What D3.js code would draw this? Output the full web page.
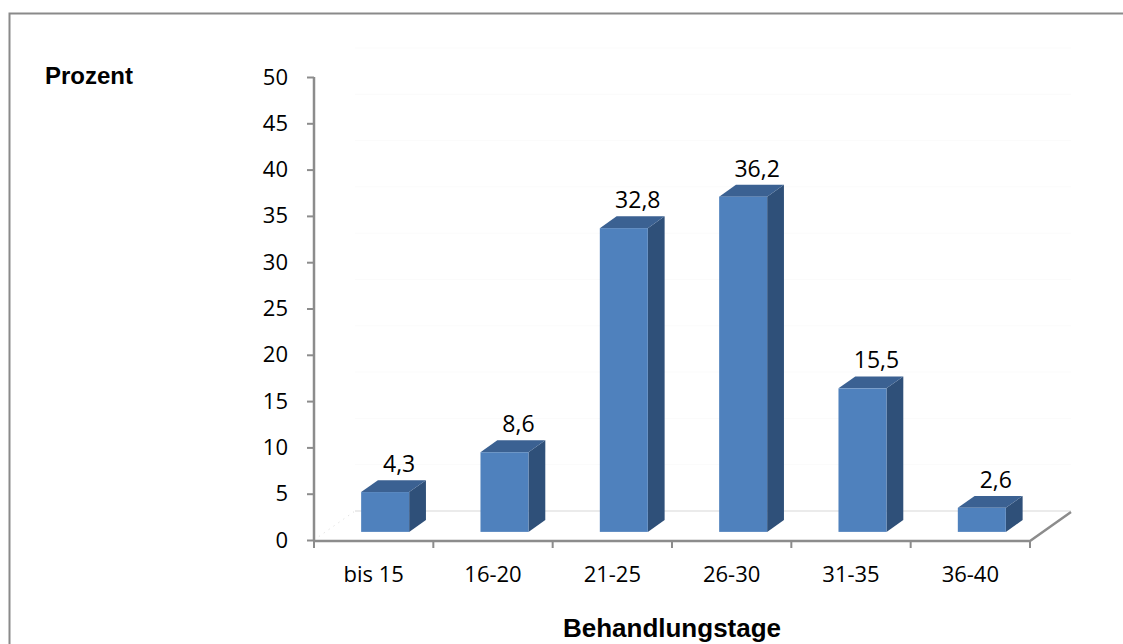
<!DOCTYPE html>
<html>
<head>
<meta charset="utf-8">
<script src="https://cdn.jsdelivr.net/npm/d3@7"></script>
<style>
  html, body { margin: 0; padding: 0; background: #fff; }
  svg { display: block; }
</style>
</head>
<body>
<svg id="chart" width="1123" height="644"></svg>
<script>
// Verteilung der Behandlungsdauer (Tage), Anteile in Prozent
const categories = ["bis 15", "16-20", "21-25", "26-30", "31-35", "36-40"];
const values = [4.3, 8.6, 32.8, 36.2, 15.5, 2.6];
const valueLabels = ["4,3", "8,6", "32,8", "36,2", "15,5", "2,6"];
const yTicks = [0, 5, 10, 15, 20, 25, 30, 35, 40, 45, 50];

const svg = d3.select("#chart");
const W = 1123, H = 644;

// plot frame
const x0 = 314, x1 = 1030, yBase = 540, yTop = 77;
// 3D depth of the floor and of the bars
const depth = { dx: 41, dy: -29 };
const barFront = 0.28, barBack = 0.69;

const x = d3.scaleBand().domain(categories).range([x0, x1]).paddingInner(0).paddingOuter(0);
const y = d3.scaleLinear().domain([0, 50]).range([yBase, yTop]);

const font = "'Open Sans', sans-serif";
const fs = 22;

// outer border
svg.append("rect")
  .attr("x", 9.5).attr("y", 13.5)
  .attr("width", W + 20).attr("height", H + 20)
  .attr("fill", "none").attr("stroke", "#8a8a8a").attr("stroke-width", 2);

// back wall gridlines (barely visible)
svg.append("g").selectAll("line").data(yTicks.filter(t => t > 0)).join("line")
  .attr("x1", x0 + depth.dx).attr("x2", x1 + depth.dx)
  .attr("y1", d => y(d) + depth.dy).attr("y2", d => y(d) + depth.dy)
  .attr("stroke", "#fbfbfb").attr("stroke-width", 1);

// floor back edge and left floor edge
svg.append("line")
  .attr("x1", x0 + depth.dx).attr("x2", x1 + depth.dx)
  .attr("y1", y(0) + depth.dy).attr("y2", y(0) + depth.dy)
  .attr("stroke", "#e4e4e4").attr("stroke-width", 1.5);
svg.append("line")
  .attr("x1", x0).attr("y1", y(0))
  .attr("x2", x0 + depth.dx).attr("y2", y(0) + depth.dy)
  .attr("stroke", "#d8d8d8").attr("stroke-width", 1).attr("stroke-dasharray", "1,5");

// bars as 3D boxes
const bw = 48;
const fdx = depth.dx * barFront, fdy = depth.dy * barFront;
const sdx = depth.dx * (barBack - barFront), sdy = depth.dy * (barBack - barFront);

const bars = svg.append("g").selectAll("g").data(categories.map((c, i) => ({ c, v: values[i], l: valueLabels[i] })))
  .join("g");

bars.each(function (d) {
  const g = d3.select(this);
  const cx = x(d.c) + x.bandwidth() / 2 + fdx;
  const left = cx - bw / 2, right = cx + bw / 2;
  const bottom = y(0) + fdy, top = y(d.v) + fdy;
  // side face
  g.append("polygon")
    .attr("points", [[right, top], [right + sdx, top + sdy], [right + sdx, bottom + sdy], [right, bottom]].map(p => p.join(",")).join(" "))
    .attr("fill", "#2f5079");
  // top face
  g.append("polygon")
    .attr("points", [[left, top], [left + sdx, top + sdy], [right + sdx, top + sdy], [right, top]].map(p => p.join(",")).join(" "))
    .attr("fill", "#3b6192");
  // front face
  g.append("rect")
    .attr("x", left).attr("y", top)
    .attr("width", bw).attr("height", bottom - top)
    .attr("fill", "#4f81bd");
  // value label
  g.append("text")
    .attr("x", cx + 14).attr("y", top + sdy - 8)
    .attr("text-anchor", "middle")
    .attr("font-family", font).attr("font-size", 23)
    .attr("fill", "#000")
    .text(d.l);
});

// axes
const axisColor = "#8c8c8c";
const yAxis = svg.append("g").attr("transform", `translate(${x0},0)`)
  .call(d3.axisLeft(y).tickValues(yTicks).tickSize(7).tickPadding(19).tickFormat(d3.format("d")));
yAxis.select(".domain").attr("d", `M0,${yTop}V${yBase + 1}`).attr("stroke", axisColor).attr("stroke-width", 2.5);
yAxis.selectAll(".tick line").attr("stroke", axisColor).attr("stroke-width", 2);
yAxis.selectAll(".tick text").attr("font-family", font).attr("font-size", fs).attr("fill", "#000");

const xAxis = svg.append("g").attr("transform", `translate(0,${yBase + 1})`)
  .call(d3.axisBottom(x).tickSize(0).tickPadding(25));
xAxis.select(".domain").remove();
xAxis.selectAll(".tick text").attr("font-family", font).attr("font-size", fs).attr("fill", "#000");

// category boundaries as tick marks
const bounds = categories.map(c => x(c)).concat([x1]);
svg.append("g").selectAll("line").data(bounds).join("line")
  .attr("x1", d => d).attr("x2", d => d)
  .attr("y1", yBase + 1).attr("y2", yBase + 8)
  .attr("stroke", axisColor).attr("stroke-width", 2);

// x axis baseline and right floor edge
svg.append("path")
  .attr("d", `M${x0},${yBase + 1}H${x1}L${x1 + depth.dx},${yBase + 1 + depth.dy}`)
  .attr("fill", "none").attr("stroke", axisColor).attr("stroke-width", 2.5);

// axis titles
svg.append("text")
  .attr("x", 45).attr("y", 84)
  .attr("font-family", "'Liberation Sans', Arial, sans-serif").attr("font-weight", "bold").attr("font-size", 24)
  .text("Prozent");
svg.append("text")
  .attr("x", 672).attr("y", 637).attr("text-anchor", "middle")
  .attr("font-family", "'Liberation Sans', Arial, sans-serif").attr("font-weight", "bold").attr("font-size", 26)
  .text("Behandlungstage");
</script>
</body>
</html>
